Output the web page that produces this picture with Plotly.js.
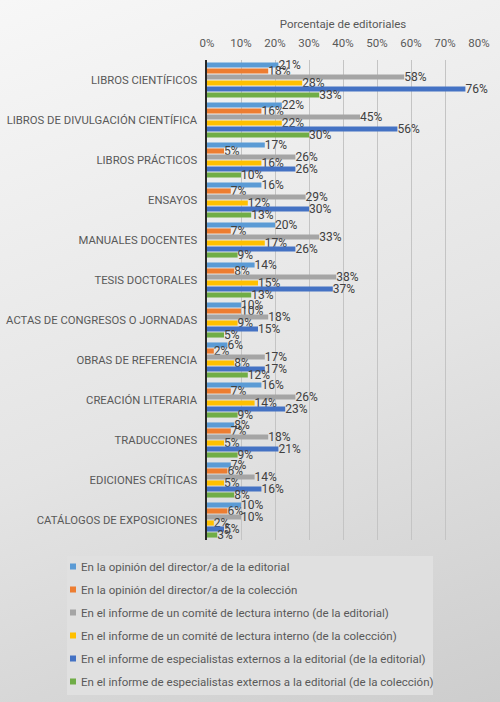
<!DOCTYPE html>
<html>
<head>
<meta charset="utf-8">
<script src="https://cdn.plot.ly/plotly-3.0.1.min.js"></script>
<style>
  html, body { margin: 0; padding: 0; }
  body {
    width: 500px; height: 702px;
    background: linear-gradient(160deg, #f7f7f7 0%, #e4e4e4 55%, #cdcdcd 100%);
  }
  #chart { width: 500px; height: 702px; }
  /* compact legend: small square keys close to their labels */
  #chart .legend .legendsymbols {
    transform-box: fill-box;
    transform-origin: center;
    transform: translate(-14px, 0) scale(0.5);
  }
  #chart .legend .legendtext { transform: translate(-26px, 0); }
</style>
</head>
<body>
<div id="chart"></div>
<script>
// Tipos de obra
const categorias = [
  'LIBROS CIENTÍFICOS',
  'LIBROS DE DIVULGACIÓN CIENTÍFICA',
  'LIBROS PRÁCTICOS',
  'ENSAYOS',
  'MANUALES DOCENTES',
  'TESIS DOCTORALES',
  'ACTAS DE CONGRESOS O JORNADAS',
  'OBRAS DE REFERENCIA',
  'CREACIÓN LITERARIA',
  'TRADUCCIONES',
  'EDICIONES CRÍTICAS',
  'CATÁLOGOS DE EXPOSICIONES'
];

// Porcentaje de editoriales por criterio de selección
const directorEditorial   = [21, 22, 17, 16, 20, 14, 10, 6, 16, 8, 7, 10];
const directorColeccion   = [18, 16, 5, 7, 7, 8, 10, 2, 7, 7, 6, 6];
const comiteEditorial     = [58, 45, 26, 29, 33, 38, 18, 17, 26, 18, 14, 10];
const comiteColeccion     = [28, 22, 16, 12, 17, 15, 9, 8, 14, 5, 5, 2];
const externosEditorial   = [76, 56, 26, 30, 26, 37, 15, 17, 23, 21, 16, 5];
const externosColeccion   = [33, 30, 10, 13, 9, 13, 5, 12, 9, 9, 8, 3];

const nombresSeries = [
  'En la opinión del director/a de la editorial',
  'En la opinión del director/a de la colección',
  'En el informe de un comité de lectura interno (de la editorial)',
  'En el informe de un comité de lectura interno (de la colección)',
  'En el informe de especialistas externos a la editorial (de la editorial)',
  'En el informe de especialistas externos a la editorial (de la colección)'
];
const valoresSeries = [directorEditorial, directorColeccion, comiteEditorial,
                       comiteColeccion, externosEditorial, externosColeccion];
const coloresSeries = ['#5B9BD5', '#ED7D31', '#A5A5A5', '#FFC000', '#4472C4', '#70AD47'];

const fuente = 'Roboto, "Noto Sans", sans-serif';

const trazas = valoresSeries.map((vals, i) => ({
  type: 'bar',
  orientation: 'h',
  name: nombresSeries[i],
  legendgroup: 'g' + i,
  y: categorias,
  x: vals,
  marker: { color: coloresSeries[i] },
  text: vals.map(v => v + '%'),
  textposition: 'outside',
  constraintext: 'none',
  cliponaxis: false,
  textfont: { family: fuente, size: 12, color: '#404040' },
  hoverinfo: 'skip'
}));

const layout = {
  width: 500,
  height: 702,
  paper_bgcolor: 'rgba(0,0,0,0)',
  plot_bgcolor: 'rgba(0,0,0,0)',
  margin: { l: 207, r: 21, t: 60, b: 162, autoexpand: false },
  barmode: 'group',
  bargap: 0.1,
  bargroupgap: 0.15,
  font: { family: fuente, color: '#595959' },
  xaxis: {
    side: 'top',
    range: [0, 80],
    dtick: 10,
    ticksuffix: '%',
    showgrid: true,
    gridcolor: '#c4c4c4',
    gridwidth: 1,
    zeroline: false,
    showline: false,
    ticks: '',
    ticklabelstandoff: 10,
    tickfont: { family: fuente, size: 11.5, color: '#595959' },
    title: { text: 'Porcentaje de editoriales', font: { family: fuente, size: 11.5, color: '#595959' }, standoff: 4 },
    fixedrange: true
  },
  yaxis: {
    autorange: 'reversed',
    showline: true,
    linecolor: '#262626',
    linewidth: 2,
    ticks: '',
    showgrid: false,
    zeroline: false,
    ticksuffix: '  ',
    tickfont: { family: fuente, size: 11.3, color: '#595959' },
    fixedrange: true
  },
  // legend panel
  shapes: [{
    type: 'rect', xref: 'paper', yref: 'paper', layer: 'below',
    x0: -0.5147, x1: 0.8309, y0: -0.3229, y1: -0.0333,
    fillcolor: '#e0e0e0', line: { width: 0 }
  }],
  showlegend: true,
  legend: {
    x: -0.5147,
    xanchor: 'left',
    y: -0.025,
    yanchor: 'top',
    bgcolor: 'rgba(0,0,0,0)',
    traceorder: 'grouped',
    tracegroupgap: 4,
    font: { family: fuente, size: 11.5, color: '#595959' },
    itemwidth: 30
  }
};

Plotly.newPlot('chart', trazas, layout, { displayModeBar: false, staticPlot: true });
</script>
</body>
</html>
